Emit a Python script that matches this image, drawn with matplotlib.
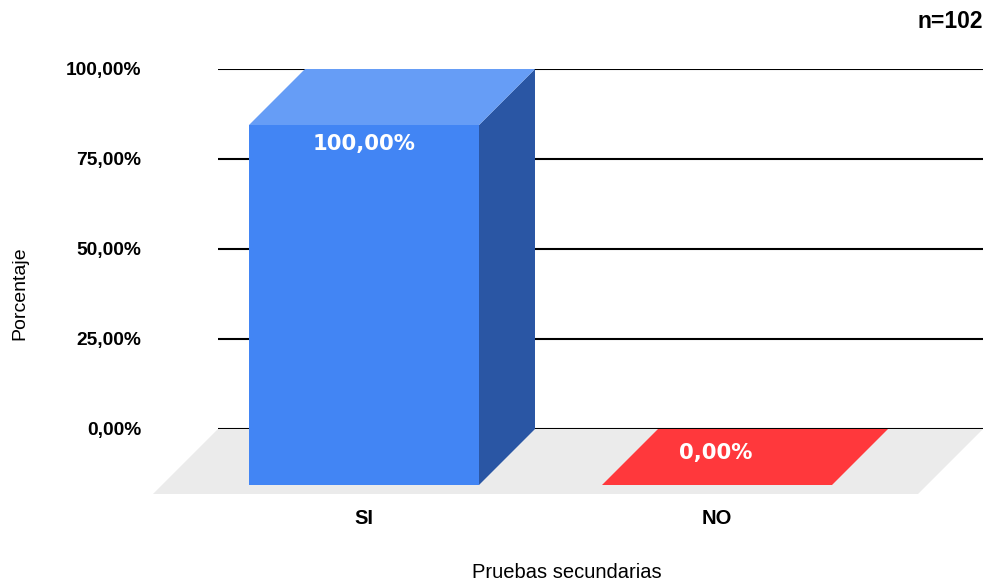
import matplotlib.pyplot as plt
from matplotlib.patches import Polygon

categorias = ["SI", "NO"]
porcentajes = [100.0, 0.0]
colores = ["#4285F4", "#FF383C"]
colores_top = ["#669DF6", "#FF383C"]
colores_lado = ["#2A56A4", "#C42A2D"]
yticks = [0, 25, 50, 75, 100]
n_total = 102

W, H = 985, 581
fig = plt.figure(figsize=(W / 100, H / 100), dpi=100)
plt.rcParams['font.family'] = ['Liberation Sans', 'DejaVu Sans']

# axes = back plane of the 3d box (where gridlines live)
x0, x1, y0, y1 = 218, 983, 69, 429
ax = fig.add_axes([x0 / W, 1 - y1 / H, (x1 - x0) / W, (y1 - y0) / H])
ppu_x = 353.0               # pixels per category
ppu_y = (y1 - y0) / 100.0   # pixels per percent
cx0 = 420                   # back centre of first bar, px
ax.set_xlim(-(cx0 - x0) / ppu_x, (x1 - cx0) / ppu_x)
ax.set_ylim(0, 100)

def off(px):
    return px / ppu_x, px / ppu_y

# floor
fdx, fdy = off(65)
xl, xr = ax.get_xlim()
ax.add_patch(Polygon([(xl, 0), (xr, 0), (xr - fdx, -fdy), (xl - fdx, -fdy)],
                     closed=True, facecolor="#EBEBEB", edgecolor="none",
                     zorder=0.2, clip_on=False))

# gridlines
ax.set_yticks(yticks)
ax.set_yticklabels([f"{t:.2f}%".replace(".", ",") for t in yticks],
                   fontsize=13.8, fontweight="bold")
ax.tick_params(axis="y", length=0, pad=55)
ax.set_xticks([])
ax.yaxis.grid(True, color="#000000", linewidth=1.5)
ax.set_axisbelow(True)
for s in ax.spines.values():
    s.set_visible(False)

# bars
bw = 230 / ppu_x
dx, dy = off(56)
for i, (cat, v) in enumerate(zip(categorias, porcentajes)):
    bl, br = i - bw / 2, i + bw / 2
    fl, fr = bl - dx, br - dx
    fb, ft = -dy, v - dy
    if v > 0:
        # side
        ax.add_patch(Polygon([(fr, fb), (br, 0), (br, v), (fr, ft)], closed=True,
                             facecolor=colores_lado[i], edgecolor="none", zorder=3, clip_on=False))
        # top
        ax.add_patch(Polygon([(fl, ft), (fr, ft), (br, v), (bl, v)], closed=True,
                             facecolor=colores_top[i], edgecolor="none", zorder=3, clip_on=False))
        # front
        ax.add_patch(Polygon([(fl, fb), (fr, fb), (fr, ft), (fl, ft)], closed=True,
                             facecolor=colores[i], edgecolor="none", zorder=3, clip_on=False))
        ly = ft - 19 / ppu_y
        lx = i - dx
    else:
        ax.add_patch(Polygon([(fl, fb), (fr, fb), (br, 0), (bl, 0)], closed=True,
                             facecolor=colores[i], edgecolor="none", zorder=3, clip_on=False))
        ly = -24 / ppu_y
        lx = i - 57 / ppu_x
    ax.text(lx, ly, f"{v:.2f}%".replace(".", ","), color="white", fontsize=15.2,
            fontweight="bold", family="DejaVu Sans", ha="center", va="center",
            zorder=4, clip_on=False)
    ax.text(i - dx, -90 / ppu_y, cat, fontsize=14.5, fontweight="bold",
            ha="center", va="center", clip_on=False)

fig.text(567 / W, 1 - 572 / H, "Pruebas secundarias", fontsize=14.5,
         ha="center", va="center")
fig.text(20 / W, 1 - 293 / H, "Porcentaje", fontsize=14, rotation=90,
         ha="center", va="center")
fig.text(983 / W, 1 - 22 / H, f"n={n_total}", fontsize=16.5, fontweight="bold",
         ha="right", va="center")

fig.savefig("out.png", dpi=100)
